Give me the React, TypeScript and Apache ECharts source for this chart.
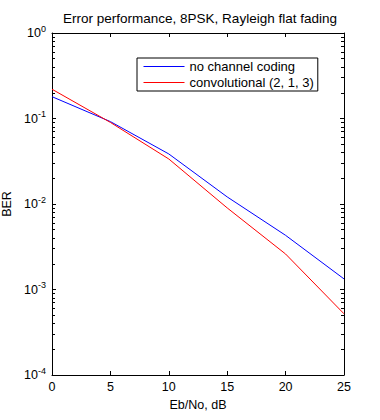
import React, { useEffect, useRef } from "react";
import * as echarts from "echarts";

const TITLE = "Error performance, 8PSK, Rayleigh flat fading";
const X_NAME = "Eb/No, dB";
const Y_NAME = "BER";
const ebno = [0, 5, 10, 15, 20, 25];
const uncoded = [0.18, 0.092, 0.0385, 0.0121, 0.0043, 0.00133];
const convolutional = [0.22, 0.09, 0.0336, 0.009, 0.0026, 0.00052];
const SERIES_NAMES = ["no channel coding", "convolutional (2, 1, 3)"];
const SERIES_COLORS = ["#0000ff", "#ff0000"];
const X_TICKS = [0, 5, 10, 15, 20, 25];
const DECADES = [-4, -3, -2, -1];
const MINOR_MULTS = [2, 3, 4, 5, 6, 7, 8, 9];

const FONT = "Liberation Sans, Arial, sans-serif";

export default function App() {
  const ref = useRef<HTMLDivElement>(null);
  useEffect(() => {
    if (!ref.current) return;
    const chart = echarts.init(ref.current, null, { renderer: "svg" });
    const xMin = X_TICKS[0];
    const xMax = X_TICKS[X_TICKS.length - 1];
    const eMin = DECADES[0];
    const eMax = DECADES[DECADES.length - 1] + 1;
    const minorExp: number[] = [];
    DECADES.forEach((d) => MINOR_MULTS.forEach((m) => minorExp.push(d + Math.log10(m))));
    const yLabel = (v: number) => {
      const e = Math.round(Math.log10(v));
      return "10{sup|" + e + "}";
    };
    const axisLine = { show: true, onZero: false, lineStyle: { color: "#000", width: 1 } };
    const minorAxis = (position: string) => ({
      type: "value",
      position,
      offset: 0,
      min: eMin,
      max: eMax,
      axisLine: { show: false, onZero: false },
      axisTick: { show: true, inside: true, length: 3, customValues: minorExp, lineStyle: { color: "#000", width: 1 } },
      axisLabel: { show: false },
      splitLine: { show: false },
    });
    chart.setOption({
      animation: false,
      backgroundColor: "#fff",
      textStyle: { fontFamily: FONT },
      title: {
        text: TITLE,
        left: 195,
        textAlign: "center",
        top: 6,
        textStyle: { fontSize: 13.5, fontWeight: "normal", color: "#000", fontFamily: FONT },
      },
      grid: { left: 52, top: 33, right: 36, bottom: 45, containLabel: false, outerBoundsMode: "none" },
      legend: {
        orient: "vertical",
        left: 137,
        top: 58,
        itemWidth: 41,
        itemHeight: 13,
        itemGap: 3,
        padding: [2, 4, 2, 6],
        borderColor: "#000",
        borderWidth: 1,
        backgroundColor: "#fff",
        textStyle: { fontSize: 13, color: "#000", fontFamily: FONT },
        data: SERIES_NAMES.map((n, i) => ({
          name: n,
          lineStyle: { color: SERIES_COLORS[i], width: 1 },
          itemStyle: { color: SERIES_COLORS[i], opacity: 0 },
        })),
      },
      xAxis: [
        {
          type: "value",
          position: "bottom",
          min: xMin,
          max: xMax,
          interval: 5,
          name: X_NAME,
          nameLocation: "middle",
          nameGap: 23,
          nameTextStyle: { fontSize: 12.5, color: "#000", fontFamily: FONT },
          axisLine,
          axisTick: { show: true, inside: true, length: 4, lineStyle: { color: "#000" } },
          axisLabel: { color: "#000", fontSize: 12.5, margin: 5, fontFamily: FONT },
          splitLine: { show: false },
        },
        {
          type: "value",
          position: "top",
          min: xMin,
          max: xMax,
          interval: 5,
          axisLine,
          axisTick: { show: true, inside: true, length: 4, lineStyle: { color: "#000" } },
          axisLabel: { show: false },
          splitLine: { show: false },
        },
      ],
      yAxis: [
        {
          type: "log",
          logBase: 10,
          position: "left",
          min: Math.pow(10, eMin),
          max: Math.pow(10, eMax),
          name: Y_NAME,
          nameLocation: "middle",
          nameGap: 36,
          nameTextStyle: { fontSize: 12.5, color: "#000", fontFamily: FONT },
          axisLine,
          axisTick: { show: true, inside: true, length: 4, lineStyle: { color: "#000" } },
          axisLabel: {
            color: "#000",
            fontSize: 12.5,
            margin: 6,
            fontFamily: FONT,
            formatter: yLabel,
            rich: { sup: { fontSize: 9, verticalAlign: "top", padding: [0, 0, 9, 0], color: "#000", fontFamily: FONT } },
          },
          splitLine: { show: false },
        },
        {
          type: "log",
          logBase: 10,
          min: Math.pow(10, eMin),
          max: Math.pow(10, eMax),
          position: "right",
          axisLine,
          axisTick: { show: true, inside: true, length: 4, lineStyle: { color: "#000" } },
          axisLabel: { show: false },
          splitLine: { show: false },
        },
        minorAxis("left"),
        minorAxis("right"),
      ],
      series: [
        {
          name: SERIES_NAMES[0],
          type: "line",
          color: SERIES_COLORS[0],
          data: ebno.map((x, i) => [x, uncoded[i]]),
          symbol: "none",
          lineStyle: { color: SERIES_COLORS[0], width: 1 },
          itemStyle: { color: SERIES_COLORS[0] },
        },
        {
          name: SERIES_NAMES[1],
          type: "line",
          color: SERIES_COLORS[1],
          data: ebno.map((x, i) => [x, convolutional[i]]),
          symbol: "none",
          lineStyle: { color: SERIES_COLORS[1], width: 1 },
          itemStyle: { color: SERIES_COLORS[1] },
        },
      ],
    });
    return () => chart.dispose();
  }, []);
  return <div ref={ref} style={{ width: 380, height: 420, position: "absolute", left: 0, top: 0 }} />;
}
